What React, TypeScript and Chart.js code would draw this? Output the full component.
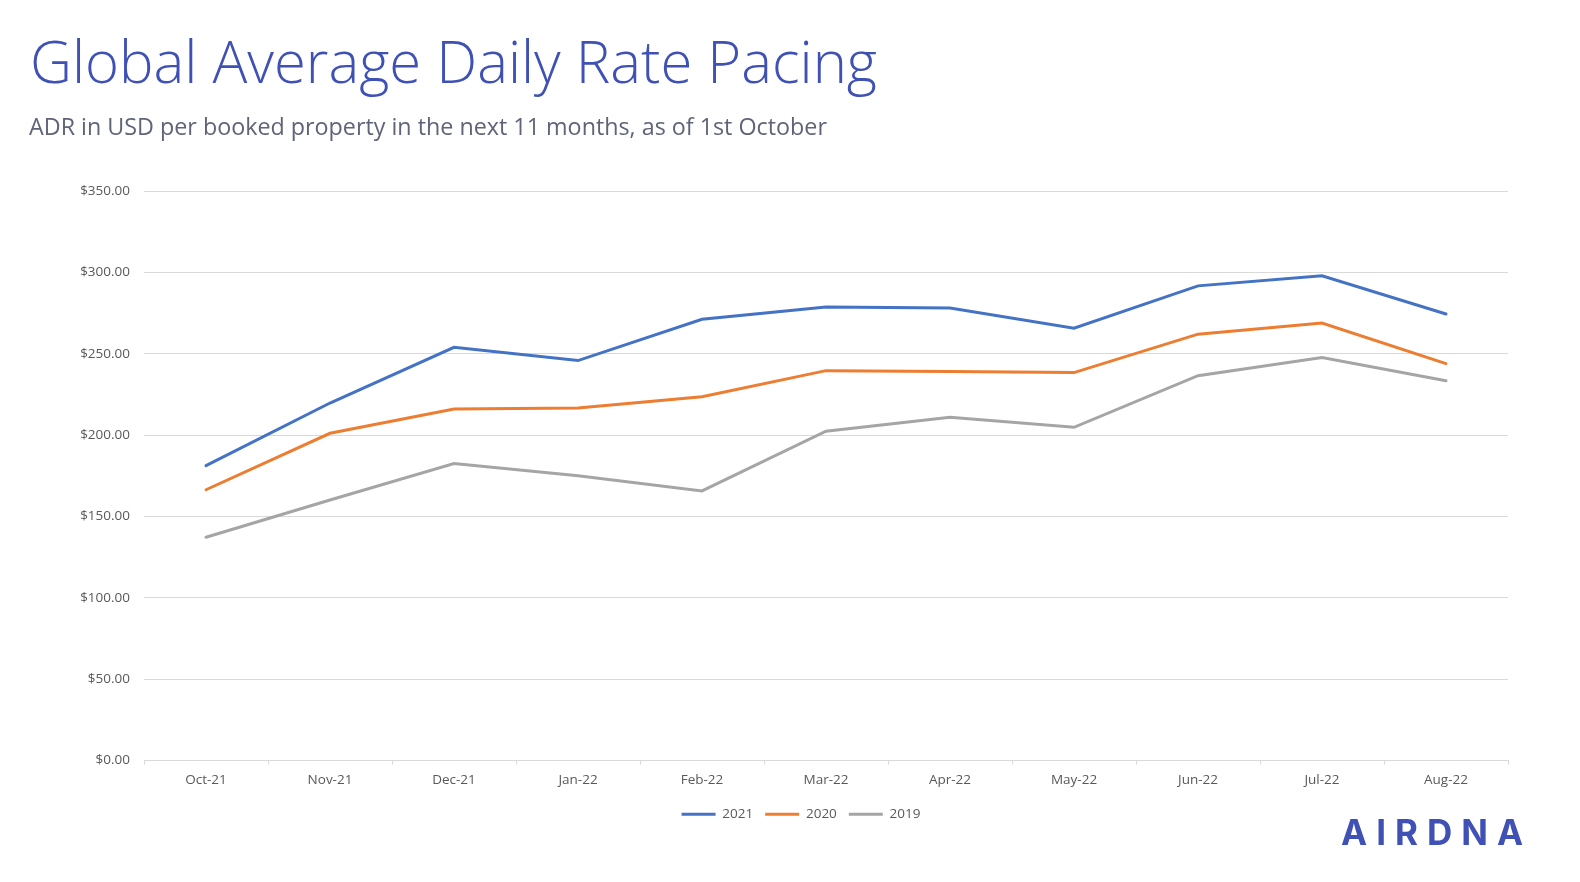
import { useRef, useEffect } from "react";
import { Chart, registerables } from "chart.js";

Chart.register(...registerables);

const MONTHS = [
  "Oct-21", "Nov-21", "Dec-21", "Jan-22", "Feb-22", "Mar-22",
  "Apr-22", "May-22", "Jun-22", "Jul-22", "Aug-22",
];

const ADR_2021 = [181.2, 219.7, 253.9, 245.8, 271.2, 278.7, 278.1, 265.7, 291.7, 297.9, 274.4];
const ADR_2020 = [166.4, 201.1, 216.0, 216.6, 223.5, 239.6, 239.0, 238.4, 262.0, 268.8, 243.9];
const ADR_2019 = [137.2, 160.1, 182.5, 175.0, 165.7, 202.4, 211.0, 204.8, 236.5, 247.7, 233.4];

const SERIES = [
  { label: "2021", data: ADR_2021, color: "#4472C4" },
  { label: "2020", data: ADR_2020, color: "#ED7D31" },
  { label: "2019", data: ADR_2019, color: "#A5A5A5" },
];

const AXIS_FONT = { family: "'Open Sans', 'Liberation Sans', sans-serif", size: 13.5 };
const GRID = "#d9d9d9";
const TEXT = "#595959";

// nudge the legend a bit to the right, like the original slide
const legendShift = {
  id: "legendShift",
  afterLayout(chart: Chart) {
    const lg = chart.legend;
    if (!lg) return;
    lg.left += 17;
    lg.right += 17;
  },
};

function PacingChart() {
  const canvasRef = useRef<HTMLCanvasElement>(null);
  const chartRef = useRef<Chart | null>(null);

  useEffect(() => {
    if (!canvasRef.current) return;
    chartRef.current?.destroy();

    chartRef.current = new Chart(canvasRef.current, {
      type: "line",
      data: {
        labels: MONTHS,
        datasets: SERIES.map((s) => ({
          label: s.label,
          data: s.data,
          borderColor: s.color,
          backgroundColor: s.color,
          borderWidth: 3,
          borderCapStyle: "round" as const,
          pointRadius: 0,
          tension: 0,
        })),
      },
      plugins: [legendShift],
      options: {
        animation: false,
        responsive: true,
        maintainAspectRatio: false,
        layout: { padding: { left: 60, right: 72, top: 191, bottom: 51 } },
        plugins: {
          tooltip: { enabled: false },
          legend: {
            position: "bottom",
            labels: {
              usePointStyle: true,
              pointStyle: "line",
              pointStyleWidth: 34,
              padding: 12,
              color: TEXT,
              font: AXIS_FONT,
            },
          },
        },
        scales: {
          x: {
            offset: true,
            grid: {
              offset: true,
              drawOnChartArea: false,
              drawTicks: true,
              tickLength: 4,
              color: GRID,
            },
            border: { display: true, color: GRID },
            ticks: { color: TEXT, font: AXIS_FONT, padding: 8, maxRotation: 0 },
            afterFit: (scale) => {
              scale.height = 35;
            },
          },
          y: {
            min: 0,
            max: 350,
            grid: { color: GRID, drawTicks: false },
            border: { display: false },
            ticks: {
              stepSize: 50,
              color: TEXT,
              font: AXIS_FONT,
              padding: 14,
              callback: (v) => "$" + Number(v).toFixed(2),
            },
            afterFit: (scale) => {
              scale.width = 84;
            },
          },
        },
      },
    });

    return () => {
      chartRef.current?.destroy();
    };
  }, []);

  return (
    <div style={{ position: "absolute", left: 0, top: 0, width: 1580, height: 882 }}>
      <canvas ref={canvasRef} />
    </div>
  );
}

export default function App() {
  return (
    <div
      style={{
        position: "fixed",
        inset: 0,
        width: 1580,
        height: 882,
        background: "#ffffff",
        fontFamily: "'Open Sans', sans-serif",
        overflow: "hidden",
      }}
    >
      <PacingChart />
      <div
        style={{
          position: "absolute",
          left: 30,
          top: 26,
          fontSize: 58,
          fontWeight: 300,
          color: "#3F51B5",
          whiteSpace: "nowrap",
          lineHeight: 1.2,
        }}
      >
        Global Average Daily Rate Pacing
      </div>
      <div
        style={{
          position: "absolute",
          left: 29,
          top: 113,
          fontSize: 23.3,
          color: "#5F6478",
          whiteSpace: "nowrap",
          lineHeight: 1.2,
        }}
      >
        ADR in USD per booked property in the next 11 months, as of 1st October
      </div>
      <div
        style={{
          position: "absolute",
          left: 1341,
          top: 811,
          fontSize: 35,
          fontWeight: 700,
          letterSpacing: 9,
          color: "#3F51B5",
          fontFamily: "Inter, sans-serif",
          lineHeight: 1.2,
          whiteSpace: "nowrap",
        }}
      >
        AIRDNA
      </div>
    </div>
  );
}
